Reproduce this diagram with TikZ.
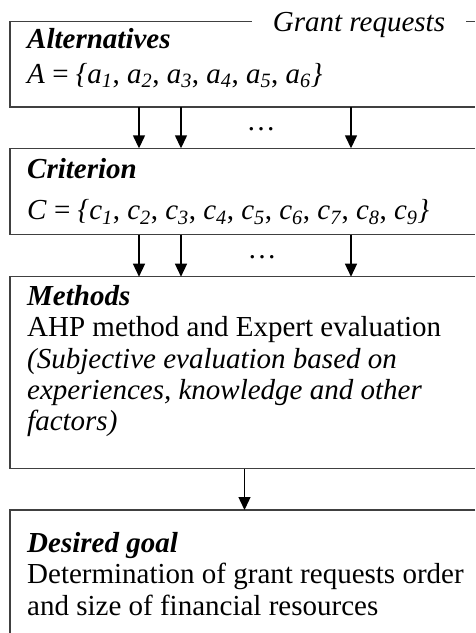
\documentclass[tikz,border=0pt]{standalone}
\usepackage{fontspec}
\setmainfont{Liberation Serif}
\usetikzlibrary{arrows.meta}
% element of a set: italic letter with italic subscript
\newcommand{\setel}[2]{\textit{#1}\textsubscript{\textit{#2}}}
\begin{document}
\begin{tikzpicture}[x=1pt,y=-1pt,
  panel/.style={rectangle, draw=none, inner sep=0pt, minimum width=465pt, anchor=north west},
  frame/.style={draw=black!75, line width=1.3pt},
  txt/.style={anchor=base west, inner sep=0pt, font=\fontsize{29}{31.5}\selectfont},
  head/.style={txt, font=\fontsize{29}{31.5}\selectfont\bfseries\itshape},
  itxt/.style={txt, font=\fontsize{29}{31.5}\selectfont\itshape},
  flow/.style={draw=black, line width=1.4pt, -{Triangle[length=13pt,width=12pt]}},
  ellip/.style={anchor=base, inner sep=0pt, font=\fontsize{29}{31.5}\selectfont}
]
\useasboundingbox (0,0) rectangle (475,633);
\fill[white] (0,0) rectangle (475,633);

% panels
\node[panel, minimum height=85pt]    (alt)  at (10,21.7)  {};
\node[panel, minimum height=86pt]    (crit) at (10,148.3) {};
\node[panel, minimum height=191.6pt] (meth) at (10,276.7) {};
\node[panel, minimum height=123pt]   (goal) at (10,510)   {};

% legend on the top border of the first panel
\node[anchor=base, inner xsep=21pt, inner ysep=0pt,
      font=\fontsize{29}{31.5}\selectfont\itshape] (legend) at (359,31) {Grant requests};

% panel borders (open to the right)
\draw[frame] (legend.west |- alt.north) -- (alt.north west) -- (alt.south west) -- (alt.south east);
\draw[frame] (legend.east |- alt.north) -- (alt.north east);
\draw[frame] (crit.north east) -- (crit.north west) -- (crit.south west) -- (crit.south east);
\draw[frame] (meth.north east) -- (meth.north west) -- (meth.south west) -- (meth.south east);
\draw[frame] (goal.north east) -- (goal.north west) -- (goal.south west);

% texts
\node[head] (altH) at (27,48.5) {Alternatives};
\node[txt]  (altS) at (27,83) {\textit{A} = \textit{\{}\setel{a}{1}, \setel{a}{2}, \setel{a}{3}, \setel{a}{4}, \setel{a}{5}, \setel{a}{6}\textit{\}}};

\node[head] (critH) at (27,178.5) {Criterion};
\node[txt]  (critS) at (27,219.5) {\textit{C} = \textit{\{}\setel{c}{1}, \setel{c}{2}, \setel{c}{3}, \setel{c}{4}, \setel{c}{5}, \setel{c}{6}, \setel{c}{7}, \setel{c}{8}, \setel{c}{9}\textit{\}}};

\node[head] (methH) at (27,305) {Methods};
\node[txt]  (meth1) at (27,336.5) {AHP method and Expert evaluation};
\node[itxt] (meth2) at (27,368) {(Subjective evaluation based on};
\node[itxt] (meth3) at (27,399) {experiences, knowledge and other};
\node[itxt] (meth4) at (27,430) {factors)};

\node[head] (goalH) at (27,552) {Desired goal};
\node[txt]  (goal1) at (27,583.5) {Determination of grant requests order};
\node[txt]  (goal2) at (27,615) {and size of financial resources};

% ellipses between the arrows
\node[ellip] (dotsA) at (261,130) {\dots};
\node[ellip] (dotsB) at (262,258) {\dots};

% arrow columns
\coordinate (p1) at (139,0);
\coordinate (p2) at (181,0);
\coordinate (p3) at (351,0);
\coordinate (p4) at (244.5,0);

\draw[flow] (alt.south -| p1) -- (crit.north -| p1);
\draw[flow] (alt.south -| p2) -- (crit.north -| p2);
\draw[flow] (alt.south -| p3) -- (crit.north -| p3);

\draw[flow] (crit.south -| p1) -- (meth.north -| p1);
\draw[flow] (crit.south -| p2) -- (meth.north -| p2);
\draw[flow] (crit.south -| p3) -- (meth.north -| p3);

\draw[flow] (meth.south -| p4) -- (goal.north -| p4);
\end{tikzpicture}
\end{document}
